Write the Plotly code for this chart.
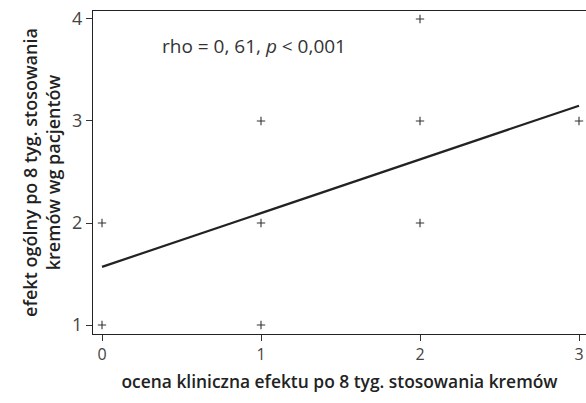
import plotly.graph_objects as go

x_pts = [0, 0, 1, 1, 1, 2, 2, 2, 3]
y_pts = [1, 2, 1, 2, 3, 2, 3, 4, 3]
fit_x = [0, 3]
fit_y = [1.57, 3.15]
x_ticks = [0, 1, 2, 3]
y_ticks = [1, 2, 3, 4]

FONT = "Open Sans"

fig = go.Figure()
fig.add_trace(go.Scatter(x=fit_x, y=fit_y, mode="lines",
                         line=dict(color="#222222", width=2.2), hoverinfo="skip"))
fig.add_trace(go.Scatter(x=x_pts, y=y_pts, mode="markers",
                         marker=dict(symbol="cross-thin", size=6,
                                     line=dict(color="#333333", width=1.1))))

fig.add_annotation(x=0.365, y=3.735, xref="x", yref="y", xanchor="left", yanchor="middle",
                   text="rho = 0, 61, <i>p</i> < 0,001", showarrow=False,
                   font=dict(family=FONT, size=19, color="#333333"))

fig.update_layout(
    width=586, height=403,
    margin=dict(l=93, r=0, t=11, b=69),
    plot_bgcolor="white", paper_bgcolor="white",
    showlegend=False,
    font=dict(family=FONT),
    xaxis=dict(range=[-0.0566, 3.044], tickvals=x_ticks, showgrid=False, zeroline=False,
               showline=True, linecolor="#222222", linewidth=1.3, mirror=True,
               ticks="outside", ticklen=6, tickcolor="#333333", tickwidth=1,
               tickfont=dict(family=FONT, size=16, color="#444444"),
               title=dict(text="ocena kliniczna efektu po 8 tyg. stosowania kremów",
                          font=dict(family=FONT, size=17.4, color="#222222", weight=600), standoff=11)),
    yaxis=dict(range=[0.912, 4.078], tickvals=y_ticks, showgrid=False, zeroline=False,
               showline=True, linecolor="#222222", linewidth=1.3,
               ticks="outside", ticklen=6, tickcolor="#333333", tickwidth=1,
               tickfont=dict(family=FONT, size=18, color="#444444"),
               title=dict(text="efekt ogólny po 8 tyg. stosowania<br>kremów wg pacjentów",
                          font=dict(family=FONT, size=18, color="#222222", weight=600), standoff=6)),
)

fig.write_html("out.html")
